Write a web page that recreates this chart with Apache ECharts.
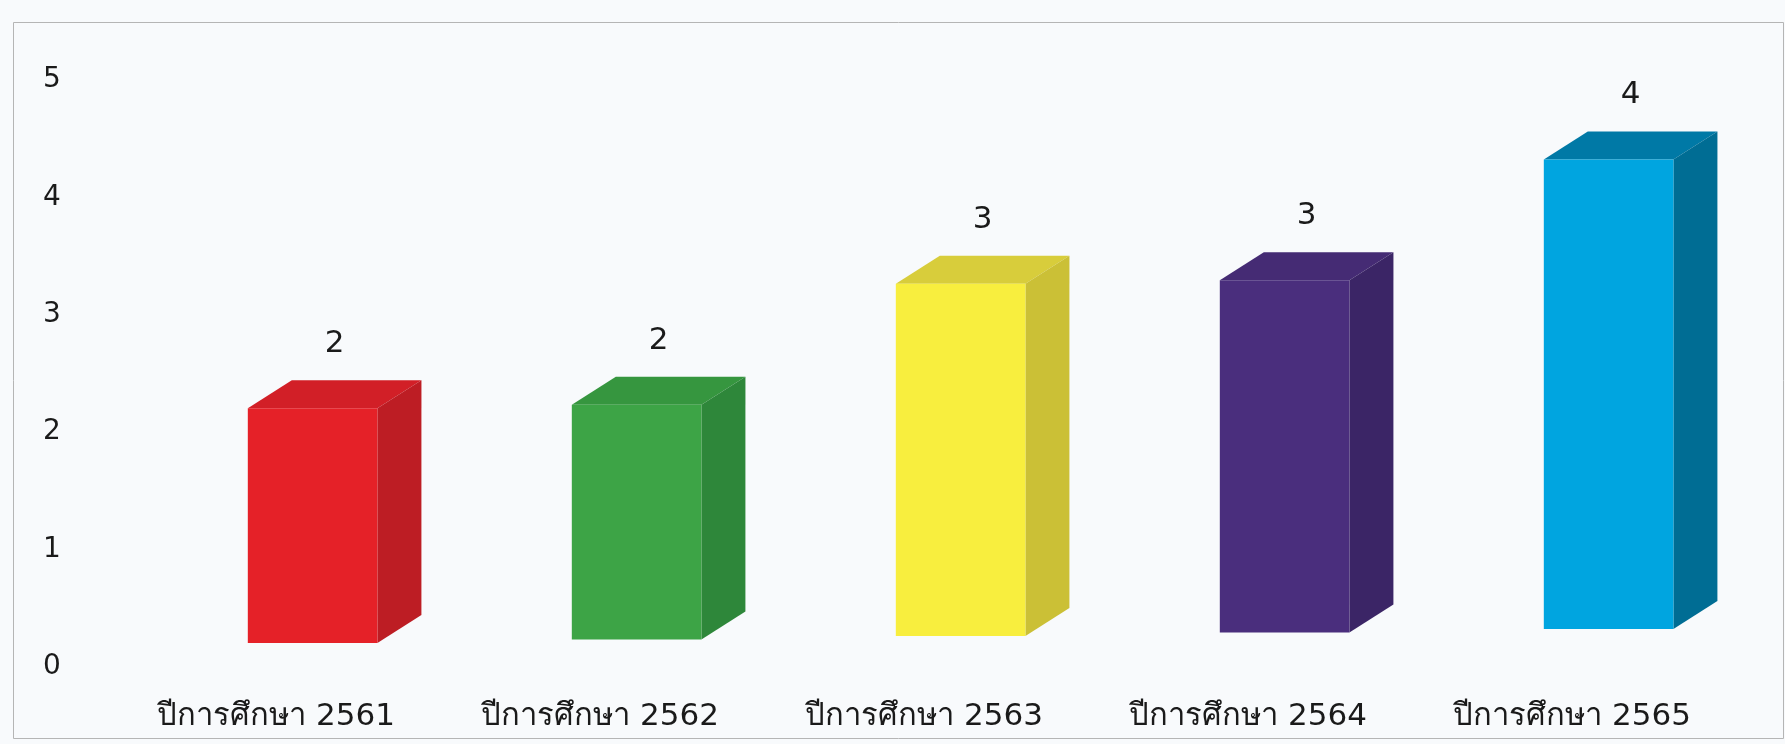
<!DOCTYPE html>
<html>
<head>
<meta charset="utf-8">
<script src="https://cdn.jsdelivr.net/npm/echarts@6/dist/echarts.min.js"></script>
<style>
html,body{margin:0;padding:0;background:#f8fafc;}
#chart{width:1785px;height:744px;}
</style>
</head>
<body>
<div id="chart"></div>
<script>
// ---- data ----
const categories = ['ปีการศึกษา 2561','ปีการศึกษา 2562','ปีการศึกษา 2563','ปีการศึกษา 2564','ปีการศึกษา 2565'];
const values = [2, 2, 3, 3, 4];
const yTicks = [0, 1, 2, 3, 4, 5];

// ---- styles ----
const frontColors = ['#e52128', '#3da446', '#f8ee3e', '#4a2e7d', '#00a5e0'];
const topColors   = ['#d21f27', '#36963f', '#d8cd3b', '#452b74', '#0079a6'];
const sideColors  = ['#bd1d24', '#2e873a', '#cbc036', '#3b2566', '#006d94'];

const chart = echarts.init(document.getElementById('chart'), null, {renderer: 'canvas'});
const DX = 44, DY = -28;

function renderItem(params, api) {
  const i = api.value(0);
  const v = api.value(1);
  const c = api.coord([i, v]);
  const b = api.coord([i, 0]);
  const band = api.size([1, 0])[0];
  const w = band * 0.4;
  const x0 = c[0] - band * 0.087;
  const off = -24 - 3.5 * i;
  const top = c[1] + off;
  const bottom = b[1] + off;
  return {
    type: 'group',
    children: [
      {type: 'polygon', shape: {points: [[x0, top], [x0 + DX, top + DY], [x0 + w + DX, top + DY], [x0 + w, top]]},
       style: {fill: topColors[i]}},
      {type: 'polygon', shape: {points: [[x0 + w, top], [x0 + w + DX, top + DY], [x0 + w + DX, bottom + DY], [x0 + w, bottom]]},
       style: {fill: sideColors[i]}},
      {type: 'rect', shape: {x: x0, y: top, width: w, height: bottom - top},
       style: {fill: frontColors[i]}},
      {type: 'text', style: {x: x0 + (w + DX) / 2, y: top + DY - 36, text: String(v),
        fill: '#1a1a1a', font: '31px "DejaVu Sans", sans-serif', align: 'center', verticalAlign: 'middle'}}
    ]
  };
}

chart.setOption({
  backgroundColor: '#f8fafc',
  animation: false,
  graphic: [{
    type: 'rect', left: 11, top: 20, z: -10,
    shape: {width: 1770, height: 716},
    style: {fill: 'none', stroke: '#b5b5b5', lineWidth: 1}
  }],
  grid: {left: 114, right: 51, top: 80, bottom: 77},
  xAxis: {
    type: 'category',
    data: categories,
    axisLine: {show: false},
    axisTick: {show: false},
    axisLabel: {fontSize: 31, color: '#1a1a1a', margin: 31, lineHeight: 38,
      fontFamily: '"DejaVu Sans", sans-serif'}
  },
  yAxis: {
    type: 'value',
    min: yTicks[0], max: yTicks[yTicks.length - 1], interval: 1,
    axisLine: {show: false},
    axisTick: {show: false},
    splitLine: {show: false},
    axisLabel: {fontSize: 28, color: '#1a1a1a', margin: 62, fontFamily: '"DejaVu Sans", sans-serif',
      align: 'center'}
  },
  series: [{
    type: 'custom',
    renderItem: renderItem,
    data: values.map((v, i) => [i, v]),
    encode: {x: 0, y: 1},
    clip: false
  }]
});
</script>
</body>
</html>
